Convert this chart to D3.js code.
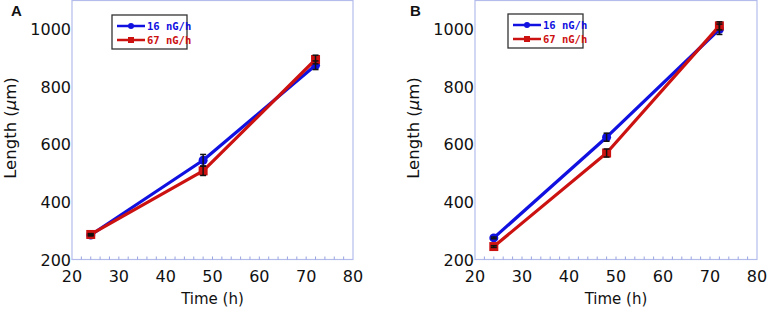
<!DOCTYPE html>
<html><head><meta charset="utf-8">
<script src="https://cdn.jsdelivr.net/npm/d3@7"></script>
<style>body{margin:0;background:#fff}svg{display:block}</style>
</head><body>
<script>
const times = [24, 48, 72];
const seriesNames = ["16 nG/h", "67 nG/h"];
const panelA_16 = [285, 545, 875];
const panelA_16_err = [3, 20, 15];
const panelA_67 = [287, 508, 895];
const panelA_67_err = [3, 16, 15];
const panelB_16 = [275, 625, 1000];
const panelB_16_err = [3, 14, 18];
const panelB_67 = [245, 570, 1012];
const panelB_67_err = [3, 14, 14];
const xTicks = [20, 30, 40, 50, 60, 70, 80];
const yTicks = [200, 400, 600, 800, 1000];
const panelLabels = ["A", "B"];

const colors = ["#1010e0", "#cc1111"];
const W = 768, H = 309;
const svg = d3.select("body").append("svg").attr("width", W).attr("height", H);
const font = "'DejaVu Sans', sans-serif";

const panels = [
  {label: panelLabels[0], s: [[panelA_16, panelA_16_err], [panelA_67, panelA_67_err]],
   x0: 72, x1: 353, labX: 11, titleX: 16, legX: 112, legY: 15},
  {label: panelLabels[1], s: [[panelB_16, panelB_16_err], [panelB_67, panelB_67_err]],
   x0: 475, x1: 757, labX: 410, titleX: 419, legX: 508, legY: 14}
];

panels.forEach(p => {
  const g = svg.append("g");
  const x = d3.scaleLinear().domain([20, 80]).range([p.x0, p.x1]);
  const y = d3.scaleLinear().domain([200, 1100]).range([259.5, 0.5]);
  g.append("rect").attr("x", p.x0).attr("y", y(1100)).attr("width", p.x1 - p.x0)
    .attr("height", y(200) - y(1100)).attr("fill", "none").attr("stroke", "#b4bcec").attr("stroke-width", 1.2);
  g.selectAll(".mt").data(d3.range(22, 80, 2)).join("line")
    .attr("x1", d => x(d)).attr("x2", d => x(d)).attr("y1", y(200)).attr("y2", y(200) - 3)
    .attr("stroke", "#9aa4e0").attr("stroke-width", 1);
  g.selectAll(".xt").data(xTicks).join("text")
    .attr("x", d => x(d)).attr("y", 282).attr("text-anchor", "middle")
    .attr("font-family", font).attr("font-size", 16).attr("fill", "#111").text(d => d);
  g.selectAll(".yt").data(yTicks).join("text")
    .attr("x", p.x0 - 1).attr("y", d => y(d) + 6).attr("text-anchor", "end")
    .attr("font-family", font).attr("font-size", 16).attr("fill", "#111").text(d => d);
  g.append("text").attr("x", x(50)).attr("y", 304).attr("text-anchor", "middle")
    .attr("font-family", font).attr("font-size", 15).attr("fill", "#111").text("Time (h)");
  g.append("text").attr("transform", `translate(${p.titleX},128) rotate(-90)`).attr("text-anchor", "middle")
    .attr("font-family", font).attr("font-size", 16.5).attr("fill", "#111")
    .html('Length (<tspan font-style="italic">μ</tspan>m)');
  g.append("text").attr("x", p.labX).attr("y", 16).attr("font-family", "'Liberation Sans', Arial, sans-serif")
    .attr("font-weight", "bold").attr("font-size", 15).attr("fill", "#111").text(p.label);

  const line = d3.line().x((d, i) => x(times[i])).y(d => y(d));
  p.s.forEach(([vals, errs], k) => {
    g.append("path").attr("d", line(vals)).attr("fill", "none").attr("stroke", colors[k])
      .attr("stroke-width", 3.2).attr("stroke-linejoin", "round");
    vals.forEach((v, i) => {
      if (k === 0) g.append("circle").attr("cx", x(times[i])).attr("cy", y(v)).attr("r", 4.5).attr("fill", colors[k]);
      else g.append("rect").attr("x", x(times[i]) - 4.5).attr("y", y(v) - 4.5).attr("width", 9).attr("height", 9).attr("fill", colors[k]);
    });
  });
  p.s.forEach(([vals, errs]) => {
    vals.forEach((v, i) => {
      const cx = x(times[i]), yt = y(v + errs[i]), yb = y(v - errs[i]);
      g.append("line").attr("x1", cx).attr("x2", cx).attr("y1", yt).attr("y2", yb).attr("stroke", "#111").attr("stroke-width", 1.5);
      [yt, yb].forEach(yy => g.append("line").attr("x1", cx - 3).attr("x2", cx + 3).attr("y1", yy).attr("y2", yy).attr("stroke", "#111").attr("stroke-width", 1.5));
    });
  });
  const lg = g.append("g").attr("transform", `translate(${p.legX},${p.legY})`);
  lg.append("rect").attr("width", 75).attr("height", 34).attr("fill", "#fff").attr("stroke", "#333").attr("stroke-width", 1.3);
  seriesNames.forEach((n, k) => {
    const ly = 11 + k * 14;
    lg.append("line").attr("x1", 5).attr("x2", 33).attr("y1", ly).attr("y2", ly).attr("stroke", colors[k]).attr("stroke-width", 2.5);
    if (k === 0) lg.append("circle").attr("cx", 19).attr("cy", ly).attr("r", 3).attr("fill", colors[k]);
    else lg.append("rect").attr("x", 16).attr("y", ly - 3).attr("width", 6).attr("height", 6).attr("fill", colors[k]);
    lg.append("text").attr("x", 35).attr("y", ly + 4).attr("font-family", "'DejaVu Sans Mono', monospace")
      .attr("font-size", 10.5).attr("font-weight", "bold").attr("fill", colors[k]).text(n);
  });
});
</script>
</body></html>
